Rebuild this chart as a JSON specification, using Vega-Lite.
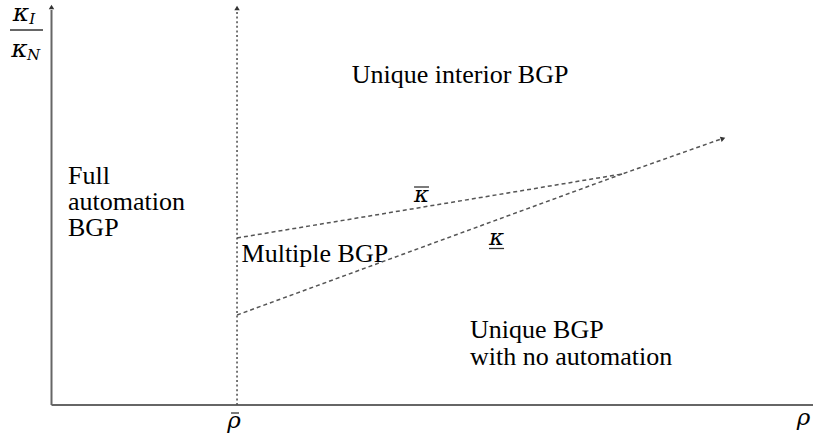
{
  "$schema": "https://vega.github.io/schema/vega-lite/v6.json",
  "width": 813,
  "height": 436,
  "padding": 0,
  "autosize": {"type": "none"},
  "background": "white",
  "config": {"view": {"stroke": null}},
  "datasets": {
    "segs": [
      {"series": "yaxis", "kind": "axis", "o": 1, "x": 0, "y": 0},
      {"series": "yaxis", "kind": "axis", "o": 2, "x": 0, "y": 9.875},
      {"series": "xaxis", "kind": "axis", "o": 1, "x": 0, "y": 0},
      {"series": "xaxis", "kind": "axis", "o": 2, "x": 10.29, "y": 0},
      {"series": "rhobar", "kind": "dotted", "o": 1, "x": 2.507, "y": 0},
      {"series": "rhobar", "kind": "dotted", "o": 2, "x": 2.507, "y": 9.85},
      {"series": "kappabar", "kind": "dashed", "o": 1, "x": 2.507, "y": 4.175},
      {"series": "kappabar", "kind": "dashed", "o": 2, "x": 7.71, "y": 5.775},
      {"series": "kappabar", "kind": "dashed", "o": 3, "x": 9.034, "y": 6.64},
      {"series": "kappaunder", "kind": "dashed", "o": 1, "x": 2.507, "y": 2.25},
      {"series": "kappaunder", "kind": "dashed", "o": 2, "x": 7.71, "y": 5.775}
    ],
    "heads": [
      {"kind": "up", "x": 0, "y": 9.95},
      {"kind": "up", "x": 2.507, "y": 9.925},
      {"kind": "slant", "x": 9.074, "y": 6.66}
    ],
    "bars": [
      {"what": "fraction", "x": -0.561, "x2": -0.115, "y": 9.375},
      {"what": "kappa over", "x": 4.899, "x2": 5.101, "y": 5.45},
      {"what": "kappa under", "x": 5.912, "x2": 6.115, "y": 3.9125},
      {"what": "rho over", "x": 2.426, "x2": 2.534, "y": -0.2}
    ],
    "labels": [
      {"role": "region", "label": "Unique interior BGP", "x": 4.057, "y": 8.24},
      {"role": "region", "label": "Full", "x": 0.223, "y": 5.73},
      {"role": "region", "label": "automation", "x": 0.223, "y": 5.08},
      {"role": "region", "label": "BGP", "x": 0.223, "y": 4.43},
      {"role": "region", "label": "Multiple BGP", "x": 2.568, "y": 3.77},
      {"role": "region", "label": "Unique BGP", "x": 5.655, "y": 1.87},
      {"role": "region", "label": "with no automation", "x": 5.655, "y": 1.195},
      {"role": "symbol", "label": "κ", "x": 5.0, "y": 5.25},
      {"role": "symbol", "label": "κ", "x": 6.014, "y": 4.17},
      {"role": "symbol", "label": "ρ", "x": 2.466, "y": -0.4},
      {"role": "symbol", "label": "ρ", "x": 10.162, "y": -0.33},
      {"role": "big", "label": "κ", "x": -0.412, "y": 9.79},
      {"role": "big", "label": "κ", "x": -0.432, "y": 8.89},
      {"role": "sub", "label": "I", "x": -0.30, "y": 9.64},
      {"role": "sub", "label": "N", "x": -0.331, "y": 8.74}
    ]
  },
  "encoding": {
    "x": {"field": "x", "type": "quantitative", "scale": {"domain": [-0.696, 10.29], "nice": false, "zero": false}, "axis": null},
    "y": {"field": "y", "type": "quantitative", "scale": {"domain": [-0.775, 10.125], "nice": false, "zero": false}, "axis": null}
  },
  "layer": [
    {
      "data": {"name": "segs"},
      "transform": [{"filter": "datum.kind === 'axis'"}],
      "mark": {"type": "line", "color": "#666666", "strokeWidth": 2},
      "encoding": {"detail": {"field": "series"}, "order": {"field": "o"}}
    },
    {
      "data": {"name": "segs"},
      "transform": [{"filter": "datum.kind === 'dotted'"}],
      "mark": {"type": "line", "color": "#555555", "strokeWidth": 1.6, "strokeDash": [2, 2.6]},
      "encoding": {"detail": {"field": "series"}, "order": {"field": "o"}}
    },
    {
      "data": {"name": "segs"},
      "transform": [{"filter": "datum.kind === 'dashed'"}],
      "mark": {"type": "line", "color": "#555555", "strokeWidth": 1.5, "strokeDash": [4, 3]},
      "encoding": {"detail": {"field": "series"}, "order": {"field": "o"}}
    },
    {
      "data": {"name": "heads"},
      "transform": [{"filter": "datum.kind === 'up'"}],
      "mark": {"type": "point", "shape": "triangle-up", "filled": true, "color": "#333333", "size": 30, "opacity": 1}
    },
    {
      "data": {"name": "heads"},
      "transform": [{"filter": "datum.kind === 'slant'"}],
      "mark": {"type": "point", "shape": "triangle-right", "filled": true, "color": "#333333", "size": 30, "angle": 341, "opacity": 1}
    },
    {
      "data": {"name": "bars"},
      "mark": {"type": "rule", "color": "#333333", "strokeWidth": 1.3},
      "encoding": {"x2": {"field": "x2"}}
    },
    {
      "data": {"name": "labels"},
      "transform": [{"filter": "datum.role === 'region'"}],
      "mark": {"type": "text", "font": "Liberation Serif", "fontSize": 26, "align": "left"},
      "encoding": {"text": {"field": "label"}}
    },
    {
      "data": {"name": "labels"},
      "transform": [{"filter": "datum.role === 'symbol'"}],
      "mark": {"type": "text", "font": "DejaVu Serif", "fontStyle": "italic", "fontSize": 23, "align": "center"},
      "encoding": {"text": {"field": "label"}}
    },
    {
      "data": {"name": "labels"},
      "transform": [{"filter": "datum.role === 'big'"}],
      "mark": {"type": "text", "font": "DejaVu Serif", "fontStyle": "italic", "fontSize": 25, "align": "center"},
      "encoding": {"text": {"field": "label"}}
    },
    {
      "data": {"name": "labels"},
      "transform": [{"filter": "datum.role === 'sub'"}],
      "mark": {"type": "text", "font": "DejaVu Serif", "fontStyle": "italic", "fontSize": 15, "align": "left"},
      "encoding": {"text": {"field": "label"}}
    }
  ]
}
